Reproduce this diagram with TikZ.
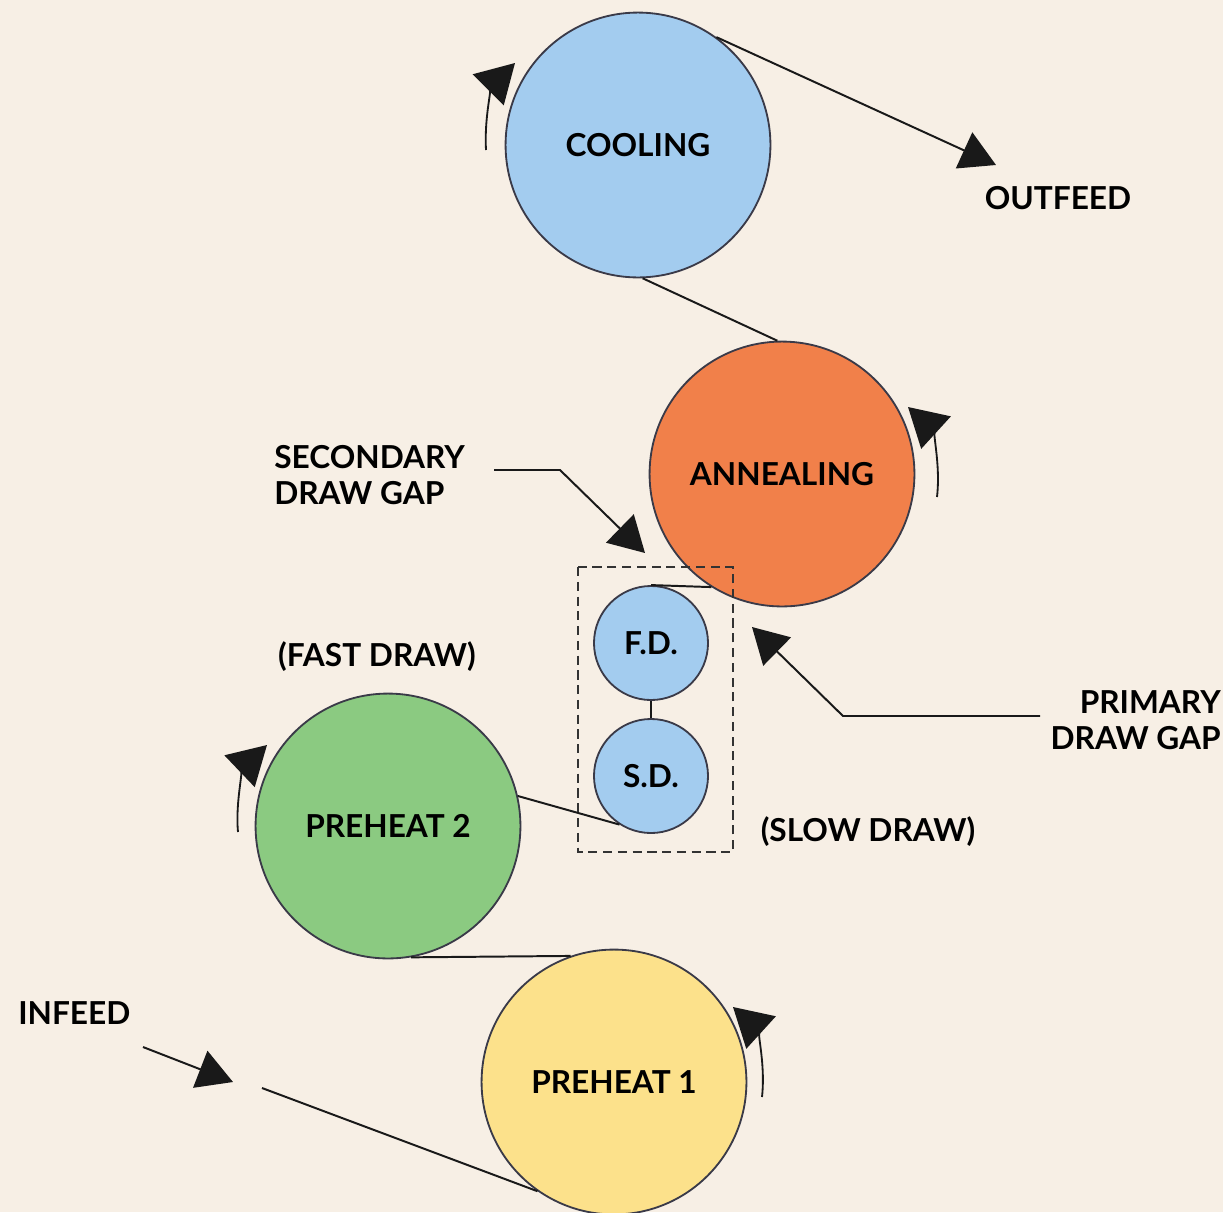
\documentclass[tikz,border=0pt]{standalone}
\usepackage{fontspec}
\setmainfont{Lato}
\usetikzlibrary{arrows.meta,calc,positioning}
\definecolor{paper}{RGB}{247,239,229}
\definecolor{coolblue}{RGB}{163,204,239}
\definecolor{annealorange}{RGB}{241,128,74}
\definecolor{heatgreen}{RGB}{139,202,129}
\definecolor{heatyellow}{RGB}{252,225,139}
\definecolor{rim}{RGB}{58,58,72}
\newcommand{\lblfont}{\bfseries\fontsize{22.5}{25.5}\selectfont}

\begin{document}
\begin{tikzpicture}[x=0.025cm,y=-0.025cm]
	\tikzset{>={Triangle[length=25pt,width=28pt]},
		roll/.style={circle,draw=rim,line width=1.3pt,inner sep=0pt,minimum size=6.62cm,font=\lblfont},
		smallroll/.style={roll,fill=coolblue,minimum size=2.85cm},
		lbl/.style={font=\lblfont,inner sep=0pt},
		web/.style={line width=1.4pt,draw=black!90},
		spin/.style={-{Triangle[length=27pt,width=31pt]},line width=1.3pt,draw=black!90}}
	\fill[paper] (0,0) rectangle (1223,1212);
	\useasboundingbox (0,0) rectangle (1223,1212);

	% rolls
	\node[roll,fill=coolblue] (cool) at (638,145) {COOLING};
	\node[roll,fill=annealorange] (anneal) at (782,474) {ANNEALING};
	\node[smallroll] (fd) at (651,643) {F.D.};
	\node[smallroll] (sd) at (651,776) {S.D.};
	\node[roll,fill=heatgreen] (pre2) at (388,826) {PREHEAT 2};
	\node[roll,fill=heatyellow] (pre1) at (614,1082) {PREHEAT 1};

	% labels
	\node[lbl] (outlbl) at (1058,198) {OUTFEED};
	\node[lbl,anchor=west] (inlbl) at (18,1013) {INFEED};
	\node[lbl,anchor=west,align=left] (seclbl) at (274,475) {SECONDARY\\DRAW GAP};
	\node[lbl,anchor=east,align=right] (primlbl) at (1221,720) {PRIMARY\\DRAW GAP};
	\node[lbl] (fastlbl) at (377,657) {(FAST DRAW)};
	\node[lbl] (slowlbl) at (868,832) {(SLOW DRAW)};

	% web path
	\coordinate (out) at (996,165);
	\coordinate (in) at (262,1088);
	\draw[web,->] (cool.54) -- (out);
	\draw[web] (cool.-88) -- (anneal.92);
	\draw[web] (fd.north) -- (anneal.238);
	\draw[web] (fd) -- (sd);
	\draw[web] (sd.237) -- (pre2.13);
	\draw[web] (pre2.-80) -- (pre1.109);
	\draw[web] (in) -- (pre1.235);
	\coordinate (ia) at (143,1047);
	\coordinate (ib) at (233,1082);
	\draw[web,->] (ia) -- (ib);

	% draw zone
	\draw[black!80,line width=1.5pt,dash pattern=on 6.5pt off 4pt] (578,567) rectangle (733,852);

	% gap pointers
	\coordinate (sg0) at (494,470);
	\coordinate (sg1) at (560,470);
	\coordinate (sg2) at (645,553);
	\draw[web,->] (sg0) -- (sg1) -- (sg2);
	\coordinate (pg0) at (1040,716);
	\coordinate (pg1) at (843,716);
	\coordinate (pg2) at (752,627);
	\draw[web,->] (pg0) -- (pg1) -- (pg2);

	% rotation
	\draw[spin] (486,150) .. controls (484,112) and (494,84) .. (515,63);
	\draw[spin] (937,497) .. controls (941,462) and (931,428) .. (908,407);
	\draw[spin] (238,832) .. controls (235,800) and (245,766) .. (267,745);
	\draw[spin] (762,1097) .. controls (766,1060) and (755,1027) .. (733,1007);
\end{tikzpicture}
\end{document}
